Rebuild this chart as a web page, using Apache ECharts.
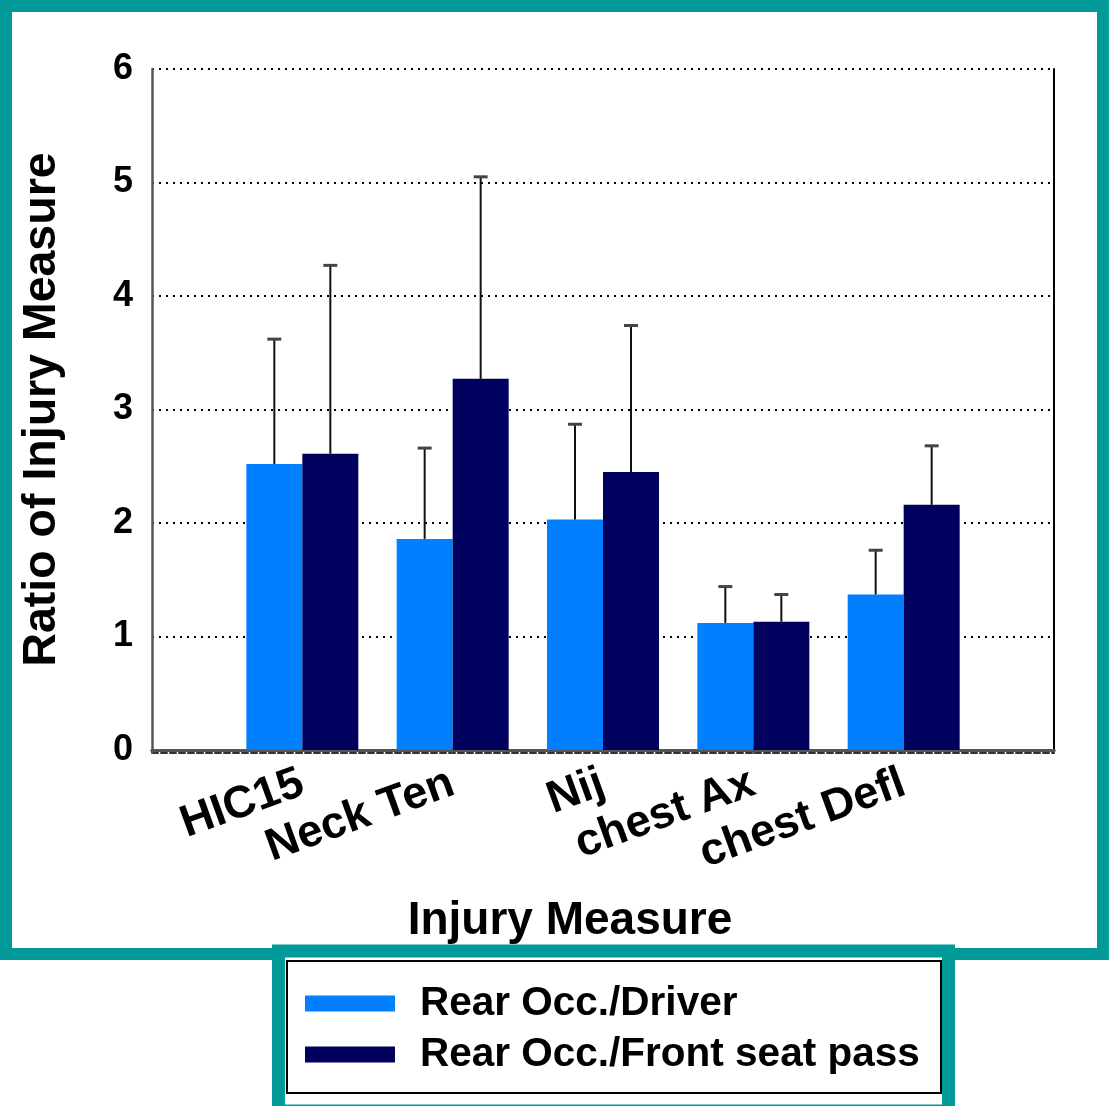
<!DOCTYPE html>
<html>
<head>
<meta charset="utf-8">
<script src="https://cdn.jsdelivr.net/npm/echarts@6/dist/echarts.min.js"></script>
<style>
  html, body { margin: 0; padding: 0; background: #fff; }
  #chart { width: 1109px; height: 1106px; }
</style>
</head>
<body>
<div id="chart"></div>
<script>
// Injury measures (padded with an empty slot on each side of the axis)
const categories = ['HIC15', 'Neck Ten', 'Nij', 'chest Ax', 'chest Defl'];
const seriesNames = ['Rear Occ./Driver', 'Rear Occ./Front seat pass'];
// Mean ratios
const driverRatio = [2.52, 1.86, 2.03, 1.12, 1.37];
const frontPassRatio = [2.61, 3.27, 2.45, 1.13, 2.16];
// Upper end of the error bars
const driverUpper = [3.62, 2.66, 2.87, 1.44, 1.76];
const frontPassUpper = [4.27, 5.05, 3.74, 1.37, 2.68];
const yTicks = [0, 1, 2, 3, 4, 5, 6];

const FONT = "'Liberation Sans', Arial, Helvetica, sans-serif";
const TEAL = '#009a99';
const LIGHT = '#0080ff';
const DARK = '#00005e';
const BAR_W = 56;

const axisCats = [''].concat(categories, ['']);
const pad = arr => ['-'].concat(arr, ['-']);

function errData(upper, base) {
  return upper.map((u, i) => [i + 1, u, base[i]]);
}

function errorRenderer(shift) {
  return function (params, api) {
    const x = api.value(0);
    const top = api.coord([x, api.value(1)]);
    const bot = api.coord([x, api.value(2)]);
    const cx = top[0] + shift;
    return {
      type: 'group',
      children: [
        { type: 'line', shape: { x1: cx, y1: bot[1], x2: cx, y2: top[1] },
          style: { stroke: '#111', lineWidth: 2 } },
        { type: 'line', shape: { x1: cx - 7, y1: top[1], x2: cx + 7, y2: top[1] },
          style: { stroke: '#444', lineWidth: 3 } }
      ]
    };
  };
}

const chart = echarts.init(document.getElementById('chart'), null, { renderer: 'canvas' });

chart.setOption({
  backgroundColor: '#ffffff',
  animation: false,
  textStyle: { fontFamily: FONT },
  graphic: [
    { type: 'rect', z: 0, silent: true,
      shape: { x: 6, y: 6, width: 1097, height: 948 },
      style: { fill: 'none', stroke: TEAL, lineWidth: 12 } },
    { type: 'rect', z: 1, silent: true,
      shape: { x: 278.5, y: 951, width: 670, height: 160 },
      style: { fill: '#ffffff', stroke: TEAL, lineWidth: 13 } },
    { type: 'rect', z: 2, silent: true,
      shape: { x: 287, y: 961, width: 654, height: 132 },
      style: { fill: 'none', stroke: '#000', lineWidth: 2 } }
  ],
  grid: { left: 152, right: 55, top: 69, bottom: 356, containLabel: false },
  legend: {
    data: seriesNames,
    orient: 'vertical',
    left: 300,
    top: 978,
    itemWidth: 90,
    itemHeight: 16,
    itemGap: 10,
    icon: 'rect',
    z: 10,
    textStyle: { fontFamily: FONT, fontSize: 40.5, fontWeight: 'bold', color: '#000', padding: [0, 0, 0, 20] }
  },
  xAxis: [
    {
      type: 'category',
      data: axisCats,
      boundaryGap: false,
      position: 'bottom',
      name: 'Injury Measure',
      nameLocation: 'middle',
      nameGap: 148,
      nameTextStyle: { fontFamily: FONT, fontSize: 46, fontWeight: 'bold', color: '#000', padding: [0, 66, 0, 0] },
      axisLine: { show: true, lineStyle: { color: '#555', width: 3 } },
      axisTick: { show: true, length: 4, lineStyle: { color: '#555', width: 1 } },
      axisLabel: {
        interval: 0,
        rotate: 20,
        margin: 32,
        fontFamily: FONT, fontSize: 45, fontWeight: 'bold', color: '#000'
      },
      splitLine: { show: false }
    },
    {
      type: 'category',
      data: axisCats,
      boundaryGap: false,
      position: 'top',
      offset: 7,
      axisLine: { show: true, lineStyle: { color: '#555', width: 3 } },
      axisTick: { show: false },
      axisLabel: { show: false },
      splitLine: { show: false }
    },
    {
      type: 'category',
      data: axisCats,
      boundaryGap: false,
      position: 'bottom',
      offset: 3,
      axisLine: { show: true, lineStyle: { color: '#333', width: 2, type: [6, 3] } },
      axisTick: { show: false },
      axisLabel: { show: false },
      splitLine: { show: false }
    }
  ],
  yAxis: [
    {
      type: 'value',
      min: yTicks[0],
      max: yTicks[yTicks.length - 1],
      interval: 1,
      name: 'Ratio of Injury Measure',
      nameLocation: 'middle',
      nameGap: 86,
      nameTextStyle: { fontFamily: FONT, fontSize: 46.5, fontWeight: 'bold', color: '#000' },
      axisLine: { show: true, lineStyle: { color: '#555', width: 2.5 } },
      axisTick: { show: false },
      axisLabel: { margin: 19, fontFamily: FONT, fontSize: 36, fontWeight: 'bold', color: '#000' },
      splitLine: { show: true, lineStyle: { color: '#000', width: 2, type: [2, 5] } }
    },
    {
      type: 'value',
      position: 'right',
      min: yTicks[0],
      max: yTicks[yTicks.length - 1],
      interval: 1,
      axisLine: { show: true, lineStyle: { color: '#000', width: 2 } },
      axisTick: { show: false },
      axisLabel: { show: false },
      splitLine: { show: false }
    }
  ],
  series: [
    {
      name: seriesNames[0],
      type: 'bar',
      data: pad(driverRatio),
      barWidth: BAR_W,
      barGap: '0%',
      itemStyle: { color: LIGHT },
      z: 2
    },
    {
      name: seriesNames[1],
      type: 'bar',
      data: pad(frontPassRatio),
      barWidth: BAR_W,
      barGap: '0%',
      itemStyle: { color: DARK },
      z: 2
    },
    {
      name: 'driverErr',
      type: 'custom',
      renderItem: errorRenderer(-BAR_W / 2),
      data: errData(driverUpper, driverRatio),
      encode: { x: 0, y: [1, 2] },
      z: 3,
      silent: true
    },
    {
      name: 'frontErr',
      type: 'custom',
      renderItem: errorRenderer(BAR_W / 2),
      data: errData(frontPassUpper, frontPassRatio),
      encode: { x: 0, y: [1, 2] },
      z: 3,
      silent: true
    }
  ]
});
</script>
</body>
</html>
